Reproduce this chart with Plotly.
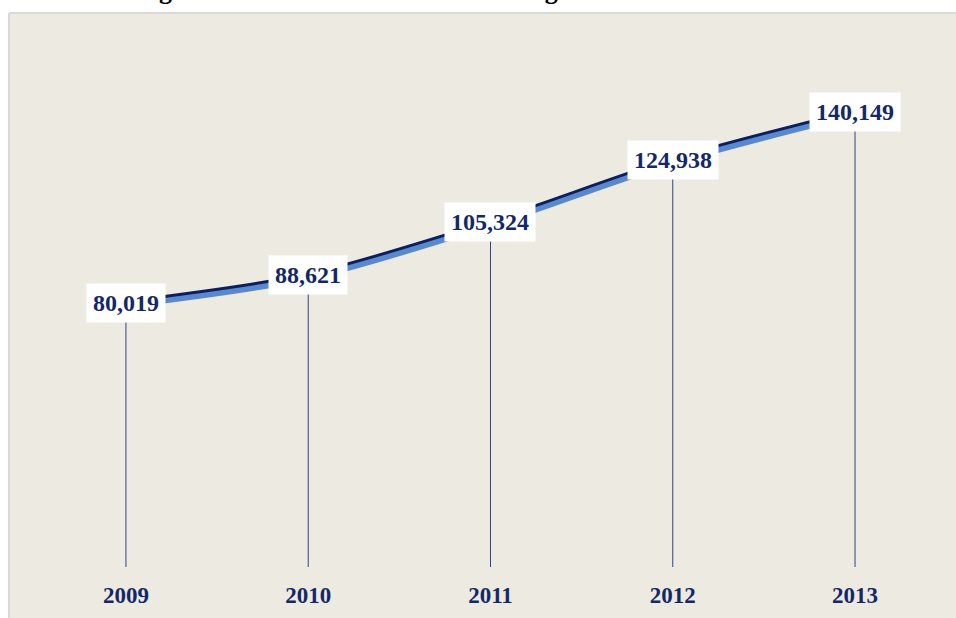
import plotly.graph_objects as go

years = [2009, 2010, 2011, 2012, 2013]
vehicles = [80019, 88621, 105324, 124938, 140149]
year_labels = ["2009", "2010", "2011", "2012", "2013"]
value_labels = ["80,019", "88,621", "105,324", "124,938", "140,149"]
title_text = "Figure 7.4: Cumulative number of registered vehicles in Rwanda"

W, H = 956, 618
M_L, M_R, M_T, M_B = 0, 0, 12, 51
plot_h = H - M_T - M_B
plot_w = W - M_L - M_R

Y_RANGE = [-3243, 171500]
X_RANGE = [2008.309, 2013.554]
shadow_px = 3
dy = shadow_px * (Y_RANGE[1] - Y_RANGE[0]) / plot_h

NAVY = "#0B1F5E"
TEXT = "#142868"
SHADOW = "#5A88CC"
DROP = "#2E4388"
PANEL = "#EDEBE1"
BORDER = "#D9D9D9"

fig = go.Figure()

# drop lines
for yr, v in zip(years, vehicles):
    fig.add_trace(go.Scatter(x=[yr, yr], y=[Y_RANGE[0], v], mode="lines",
                             line=dict(color=DROP, width=1), hoverinfo="skip",
                             showlegend=False))

# shadow line on shifted overlay axis
fig.add_trace(go.Scatter(x=years, y=vehicles, mode="lines", yaxis="y2",
                         line=dict(color=SHADOW, width=5.5, shape="spline", smoothing=0.8),
                         showlegend=False, hoverinfo="skip"))
fig.add_trace(go.Scatter(x=years, y=vehicles, mode="lines",
                         line=dict(color=NAVY, width=5.5, shape="spline", smoothing=0.8),
                         showlegend=False))

for yr, v, lab in zip(years, vehicles, value_labels):
    fig.add_annotation(x=yr, y=v, text=lab, showarrow=False, bgcolor="white",
                       borderpad=6, xanchor="center", yanchor="middle",
                       font=dict(family="Liberation Serif", size=24, color=TEXT, weight="bold"))

# title (clipped at top)
fig.add_annotation(xref="paper", yref="paper", x=(494 - M_L) / plot_w,
                   y=1 + (M_T - 6) / plot_h, yanchor="bottom", xanchor="center",
                   text=title_text, showarrow=False, borderpad=0,
                   font=dict(family="Liberation Serif", size=26, color="black", weight="bold"))

# panel
x_left = (9 - M_L) / plot_w
y_top = 1 - 1 / plot_h
fig.add_shape(type="rect", xref="paper", yref="paper", layer="below",
              x0=x_left, x1=1.05, y0=-0.2, y1=y_top,
              fillcolor=PANEL, line=dict(width=0))
fig.add_shape(type="line", xref="paper", yref="paper", layer="below",
              x0=x_left, x1=x_left, y0=-0.2, y1=y_top, line=dict(color=BORDER, width=2))
fig.add_shape(type="line", xref="paper", yref="paper", layer="below",
              x0=x_left, x1=1.05, y0=y_top, y1=y_top, line=dict(color=BORDER, width=2))

fig.update_layout(
    width=W, height=H,
    margin=dict(l=M_L, r=M_R, t=M_T, b=M_B),
    paper_bgcolor="white", plot_bgcolor="rgba(0,0,0,0)",
    showlegend=False,
    xaxis=dict(range=X_RANGE, tickvals=years, ticktext=year_labels,
               showgrid=False, zeroline=False, showline=False, ticks="",
               ticklabelstandoff=12,
               tickfont=dict(family="Liberation Serif", size=23, color=TEXT, weight="bold")),
    yaxis=dict(range=Y_RANGE, visible=False, showgrid=False, zeroline=False),
    yaxis2=dict(range=[Y_RANGE[0] + dy, Y_RANGE[1] + dy], overlaying="y",
                visible=False, showgrid=False, zeroline=False),
)

fig.write_html("out.html", config={"displayModeBar": False},
               post_script="document.documentElement.style.overflow='hidden';"
                           "document.body.style.margin='0';document.body.style.overflow='hidden';"
                           "document.body.style.background='" + PANEL + "';")
